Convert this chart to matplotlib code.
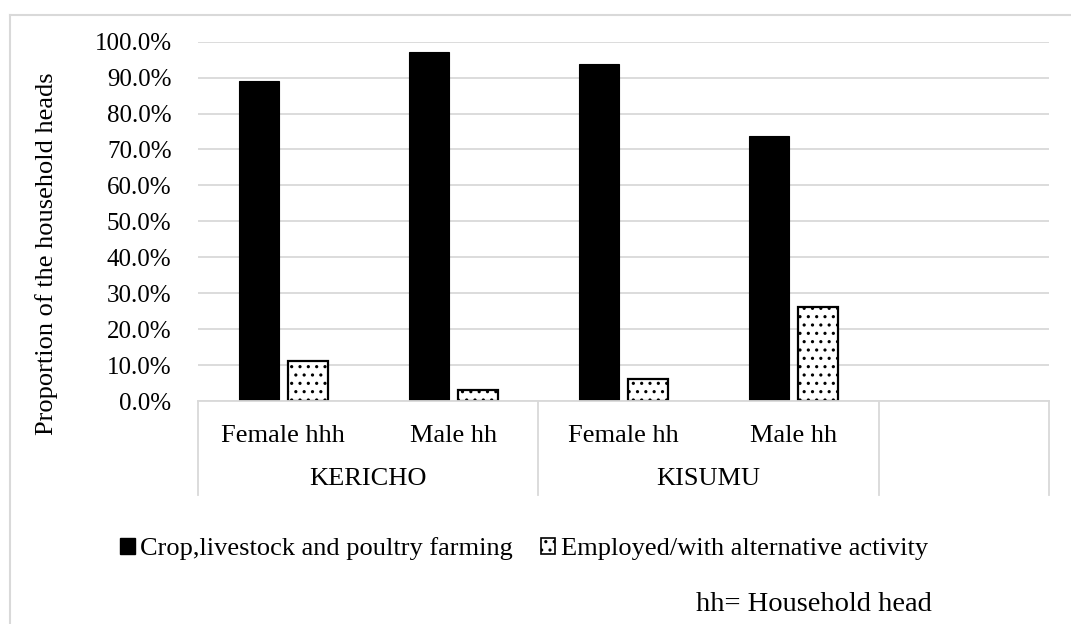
import numpy as np
import matplotlib
matplotlib.use("Agg")
import matplotlib.pyplot as plt
import matplotlib.transforms as mtransforms
from matplotlib.patches import Patch

plt.rcParams['font.family'] = ['Liberation Serif', 'DejaVu Serif']
plt.rcParams['hatch.linewidth'] = 1.1

# survey shares by county and sex of household head
counties = ["KERICHO", "KISUMU"]
heads = ["Female hhh", "Male hh", "Female hh", "Male hh"]
farming = [89.0, 97.0, 93.8, 73.7]
employed = [11.0, 3.0, 6.2, 26.3]
series_names = ["Crop,livestock and poultry farming", "Employed/with alternative activity"]

grid_col = "#d9d9d9"

fig = plt.figure(figsize=(10.71, 6.24), dpi=100)
W, H = 1071, 624
ax = fig.add_axes([198 / W, 1 - 401 / H, (1049 - 198) / W, (401 - 41.7) / H])
ax_h = 401 - 41.7

n_slots = len(heads) + 1   # an empty fifth slot on the category axis
x = np.arange(len(heads))
bw = 0.235
off = 0.144
ax.bar(x - off, np.array(farming) / 100, bw, color="black", edgecolor="black", linewidth=0.8)
ax.bar(x + off, np.array(employed) / 100, bw, color="white", edgecolor="black",
       linewidth=1.6, hatch="..")

ax.set_xlim(-0.5, n_slots - 0.5)
ax.set_ylim(0, 1.0)
ax.set_yticks(np.arange(0, 1.01, 0.1))
ax.set_yticklabels([f"{v:.1f}%" for v in np.arange(0, 100.1, 10)], fontsize=18)
ax.tick_params(axis="y", length=0, pad=19)
ax.set_xticks([])
ax.yaxis.grid(True, color=grid_col, linewidth=1.3)
ax.set_axisbelow(True)
for s in ax.spines.values():
    s.set_visible(False)

# two-level category axis drawn below the plot
tr = mtransforms.blended_transform_factory(ax.transData, ax.transAxes)
y_sub = (401 - 442) / ax_h
y_grp = (401 - 485) / ax_h
y_bot = (401 - 495) / ax_h
for i, lab in enumerate(heads):
    ax.text(i, y_sub, lab, transform=tr, ha="center", va="baseline", fontsize=19)
for g, name in enumerate(counties):
    ax.text(2 * g + 0.5, y_grp, name, transform=tr, ha="center", va="baseline", fontsize=19)
ax.plot([-0.5, n_slots - 0.5], [0, 0], transform=tr, color=grid_col, lw=1.3, clip_on=False)
for xv in [-0.5, 1.5, 3.5, 4.5]:
    ax.plot([xv, xv], [0, y_bot], transform=tr, color=grid_col, lw=1.3, clip_on=False)

fig.text(47 / W, 1 - 254 / H, "Proportion of the household heads", rotation=90,
         ha="center", va="center", fontsize=19)

handles = [Patch(facecolor="black", edgecolor="black"),
           Patch(facecolor="white", edgecolor="black", hatch="..", linewidth=1.2)]
fig.legend(handles, series_names, loc="center left", bbox_to_anchor=(120 / W, 1 - 549 / H),
           ncol=2, frameon=False, fontsize=19, handlelength=0.56, handleheight=0.56,
           handletextpad=0.2, columnspacing=1.05, borderpad=0, borderaxespad=0)

fig.text(696 / W, 1 - 611 / H, "hh= Household head", ha="left", va="baseline", fontsize=20.5)

# outer chart frame
fig.add_artist(plt.Line2D([10 / W, 10 / W], [0, 1 - 15 / H], color=grid_col, lw=1.5))
fig.add_artist(plt.Line2D([10 / W, 1], [1 - 15 / H, 1 - 15 / H], color=grid_col, lw=1.5))

fig.savefig("out.png", dpi=100)
